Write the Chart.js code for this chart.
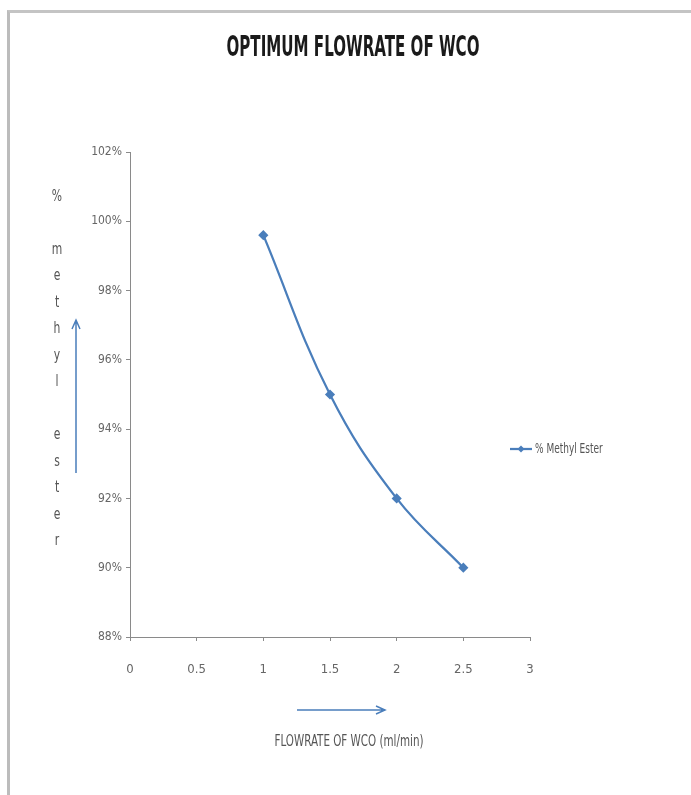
<!DOCTYPE html>
<html>
<head>
<meta charset="utf-8">
<script src="https://cdn.jsdelivr.net/npm/chart.js@4.4.0/dist/chart.umd.min.js"></script>
<style>
  html, body { margin: 0; padding: 0; background: #fff; }
  #wrap { position: relative; width: 691px; height: 795px; overflow: hidden; }
  #frame { position: absolute; left: 7px; top: 10px; width: 700px; height: 800px;
           border-top: 3px solid #c4c4c4; border-left: 3px solid #bcbcbc; }
  canvas { position: absolute; left: 0; top: 0; }
</style>
</head>
<body>
<div id="wrap">
  <div id="frame"></div>
  <canvas id="chart" width="691" height="795"></canvas>
</div>
<script>
const chartTitle = "OPTIMUM FLOWRATE OF WCO";
const xTitle = "FLOWRATE OF WCO (ml/min)";
const yTitleLetters = ["%", "", "m", "e", "t", "h", "y", "l", "", "e", "s", "t", "e", "r"];
const seriesName = "% Methyl Ester";

const flowrate = [1, 1.5, 2, 2.5];
const methylEster = [99.6, 95, 92, 90];

const xTicks = [0, 0.5, 1, 1.5, 2, 2.5, 3];
const yTicks = [88, 90, 92, 94, 96, 98, 100, 102];

const narrow = "'Liberation Sans Narrow', 'DejaVu Sans Condensed', sans-serif";
const blue = "#4a7ebb";

// text squeezed like the stretched excel picture
function tallText(ctx, text, x, y, font, sy) {
    ctx.save();
    ctx.translate(x, y);
    ctx.scale(1, sy);
    ctx.font = font;
    ctx.fillText(text, 0, 0);
    ctx.restore();
}

// title, stacked y title, arrows and legend drawn by hand like the excel sheet
const extras = {
    id: "extras",
    afterDraw(chart) {
        const ctx = chart.ctx;
        ctx.save();
        ctx.textAlign = "center";
        ctx.textBaseline = "middle";

        // title
        ctx.fillStyle = "#1a1a1a";
        tallText(ctx, chartTitle, 353, 49, "bold 16.8px " + narrow, 1.7);

        // y title, one letter per line
        ctx.fillStyle = "#555";
        yTitleLetters.forEach((c, i) => {
            tallText(ctx, c, 57, 197 + i * 26.5, "12px " + narrow, 1.25);
        });

        // x title
        tallText(ctx, xTitle, 349, 742, "11.5px " + narrow, 1.45);

        // arrows
        ctx.strokeStyle = blue;
        ctx.lineWidth = 1.5;
        ctx.beginPath();
        ctx.moveTo(76, 473); ctx.lineTo(76, 320);
        ctx.moveTo(72, 329); ctx.lineTo(76, 320); ctx.lineTo(80, 329);
        ctx.moveTo(297, 710); ctx.lineTo(385, 710);
        ctx.moveTo(376, 706); ctx.lineTo(385, 710); ctx.lineTo(376, 714);
        ctx.stroke();

        // legend
        ctx.lineWidth = 2.25;
        ctx.beginPath();
        ctx.moveTo(510, 449); ctx.lineTo(532, 449);
        ctx.stroke();
        ctx.fillStyle = blue;
        ctx.beginPath();
        ctx.moveTo(521, 445.5); ctx.lineTo(524.5, 449); ctx.lineTo(521, 452.5); ctx.lineTo(517.5, 449);
        ctx.closePath();
        ctx.fill();
        ctx.fillStyle = "#555";
        ctx.textAlign = "left";
        tallText(ctx, seriesName, 535, 449, "10px " + narrow, 1.35);

        ctx.restore();
    }
};

const ctx = document.getElementById("chart").getContext("2d");

new Chart(ctx, {
    type: "line",
    data: {
        datasets: [{
            label: seriesName,
            data: flowrate.map((x, i) => ({ x: x, y: methylEster[i] })),
            borderColor: blue,
            backgroundColor: blue,
            borderWidth: 2.25,
            tension: 0.4,
            pointStyle: "rectRot",
            pointRadius: 3.5,
            pointBackgroundColor: blue,
            pointBorderColor: blue,
            fill: false
        }]
    },
    options: {
        responsive: false,
        animation: false,
        layout: {
            padding: { left: 80, right: 161, top: 152, bottom: 98 }
        },
        plugins: {
            legend: { display: false },
            title: { display: false },
            tooltip: { enabled: false }
        },
        scales: {
            x: {
                type: "linear",
                min: 0,
                max: 3,
                afterBuildTicks: s => { s.ticks = xTicks.map(v => ({ value: v })); },
                afterFit: s => { s.height = 60; },
                grid: { drawOnChartArea: false, color: "#8a8a8a", tickLength: 4 },
                border: { color: "#8a8a8a" },
                ticks: {
                    color: "#666",
                    padding: 21,
                    maxRotation: 0,
                    font: { family: narrow, size: 13 },
                    callback: v => String(v)
                }
            },
            y: {
                min: 88,
                max: 102,
                afterBuildTicks: s => { s.ticks = yTicks.map(v => ({ value: v })); },
                afterFit: s => { s.width = 50; },
                grid: { drawOnChartArea: false, color: "#8a8a8a", tickLength: 4 },
                border: { color: "#8a8a8a" },
                ticks: {
                    color: "#666",
                    padding: 4,
                    font: { family: narrow, size: 12 },
                    callback: v => v + "%"
                }
            }
        }
    },
    plugins: [extras]
});
</script>
</body>
</html>
